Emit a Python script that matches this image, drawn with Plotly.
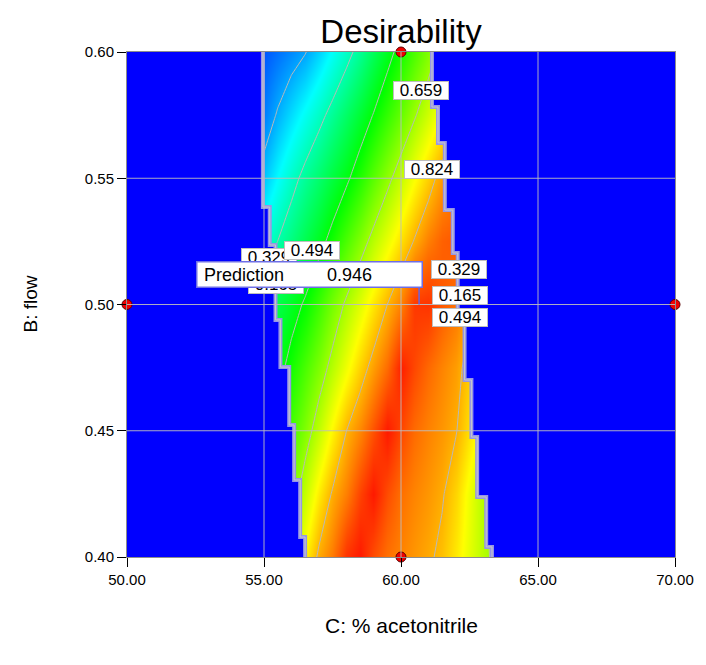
import plotly.graph_objects as go

# ---------------- data ----------------
x_acn = [54.5, 55.0, 55.5, 56.0, 56.5, 57.0, 57.5, 58.0, 58.5, 59.0,
         59.5, 60.0, 60.5, 61.0, 61.5, 62.0, 62.5, 63.0, 63.5]
y_flow = [0.400, 0.425, 0.450, 0.475, 0.500, 0.525, 0.550, 0.575, 0.600]

des_040 = [0.48, 0.55, 0.62, 0.69, 0.76, 0.835, 0.88, 0.95, 0.975, 0.925, 0.89, 0.87, 0.852, 0.834, 0.81, 0.77, 0.725, 0.68, 0.635]
des_0425 = [0.42, 0.49, 0.56, 0.625, 0.695, 0.77, 0.83, 0.875, 0.935, 0.975, 0.925, 0.89, 0.87, 0.852, 0.83, 0.79, 0.735, 0.675, 0.615]
des_045 = [0.38, 0.44, 0.50, 0.57, 0.628, 0.692, 0.757, 0.823, 0.868, 0.92, 0.975, 0.93, 0.895, 0.872, 0.852, 0.828, 0.78, 0.73, 0.68]
des_0475 = [0.36, 0.415, 0.468, 0.520, 0.573, 0.625, 0.680, 0.737, 0.795, 0.845, 0.895, 0.97, 0.93, 0.897, 0.87, 0.845, 0.80, 0.75, 0.70]
des_050 = [0.36, 0.39, 0.428, 0.464, 0.504, 0.560, 0.616, 0.670, 0.722, 0.773, 0.824, 0.875, 0.945, 0.95, 0.912, 0.885, 0.84, 0.79, 0.74]
des_0525 = [0.24, 0.285, 0.330, 0.376, 0.423, 0.469, 0.519, 0.574, 0.628, 0.681, 0.730, 0.780, 0.829, 0.875, 0.905, 0.915, 0.90, 0.88, 0.85]
des_055 = [0.14, 0.194, 0.249, 0.303, 0.352, 0.395, 0.438, 0.481, 0.532, 0.587, 0.641, 0.694, 0.745, 0.796, 0.85, 0.88, 0.89, 0.88, 0.86]
des_0575 = [0.075, 0.124, 0.172, 0.217, 0.262, 0.307, 0.353, 0.401, 0.450, 0.498, 0.550, 0.601, 0.653, 0.704, 0.755, 0.79, 0.82, 0.84, 0.85]
des_060 = [0.06, 0.085, 0.11, 0.135, 0.161, 0.207, 0.255, 0.304, 0.356, 0.412, 0.468, 0.522, 0.574, 0.626, 0.68, 0.73, 0.78, 0.82, 0.86]
desirability = [des_040, des_0425, des_045, des_0475, des_050, des_0525, des_055, des_0575, des_060]

contour_levels = [0.165, 0.329, 0.494, 0.659, 0.824]

# feasible-region edges (step boundaries): y breakpoints and the x of each step
left_edge_y = [0.40, 0.4079, 0.4305, 0.4523, 0.4752, 0.4939, 0.5236, 0.5386, 0.60]
left_edge_x = [56.50, 56.32, 56.10, 55.92, 55.60, 55.42, 55.21, 54.96]
right_edge_y = [0.40, 0.4040, 0.4238, 0.4475, 0.4701, 0.4939, 0.5204, 0.5374, 0.5640, 0.5782, 0.60]
right_edge_x = [63.32, 63.11, 62.78, 62.57, 62.32, 62.07, 61.89, 61.60, 61.35, 61.13]

# design points
design_x = [60, 50, 70, 60]
design_y = [0.60, 0.50, 0.50, 0.40]

# prediction
pred_x, pred_y, pred_val = 60.66, 0.50, 0.946

# contour label texts and their positions
label_text = ["0.329", "0.165", "0.494", "0.659", "0.824", "0.329", "0.165", "0.494"]
label_x = [55.17, 55.42, 56.75, 60.74, 61.13, 62.10, 62.17, 62.17]
label_y = [0.5188, 0.5081, 0.5212, 0.5846, 0.5533, 0.5137, 0.5034, 0.4947]

FONT = "Liberation Sans, Arial, sans-serif"
BLUE = "rgb(0,0,255)"

colorscale = [[0.0, "rgb(0,0,255)"], [0.25, "rgb(0,255,255)"], [0.5, "rgb(0,255,0)"],
              [0.75, "rgb(255,255,0)"], [1.0, "rgb(255,0,0)"]]


def step_path(ys, xs):
    px, py = [], []
    for i, xv in enumerate(xs):
        px += [xv, xv]
        py += [ys[i], ys[i + 1]]
    return px, py


fig = go.Figure()

fig.add_trace(go.Contour(
    x=x_acn, y=y_flow, z=desirability,
    colorscale=colorscale, zmin=0, zmax=1.0, showscale=False,
    contours=dict(coloring="heatmap", start=contour_levels[0], end=contour_levels[-1],
                  size=(contour_levels[-1] - contour_levels[0]) / (len(contour_levels) - 1)),
    line=dict(color="rgb(185,185,185)", width=1, smoothing=0),
    hoverinfo="skip",
))

# blue masks outside the feasible band
lx, ly = step_path(left_edge_y, left_edge_x)
fig.add_trace(go.Scatter(x=[50] + lx + [50], y=[left_edge_y[0]] + ly + [left_edge_y[-1]],
                         fill="toself", fillcolor=BLUE, mode="lines", line=dict(width=0),
                         hoverinfo="skip", showlegend=False))
rx, ry = step_path(right_edge_y, right_edge_x)
fig.add_trace(go.Scatter(x=[70] + rx + [70], y=[right_edge_y[0]] + ry + [right_edge_y[-1]],
                         fill="toself", fillcolor=BLUE, mode="lines", line=dict(width=0),
                         hoverinfo="skip", showlegend=False))

# boundary outlines (stacked contours)
for xs_, ys_ in [(lx, ly), (rx, ry)]:
    fig.add_trace(go.Scatter(x=xs_, y=ys_, mode="lines",
                             line=dict(color="rgb(150,150,230)", width=4),
                             hoverinfo="skip", showlegend=False))
    fig.add_trace(go.Scatter(x=xs_, y=ys_, mode="lines",
                             line=dict(color="rgb(200,200,200)", width=1),
                             hoverinfo="skip", showlegend=False))

# design points
fig.add_trace(go.Scatter(x=design_x, y=design_y, mode="markers", cliponaxis=False,
                         marker=dict(size=10, color="rgb(240,0,0)",
                                     line=dict(color="rgb(90,0,0)", width=1)),
                         hoverinfo="skip", showlegend=False))

shapes = []
for gx in [55, 60, 65]:
    shapes.append(dict(type="line", xref="x", yref="y", x0=gx, x1=gx, y0=0.40, y1=0.60,
                       line=dict(color="rgba(190,190,190,0.9)", width=1), layer="above"))
for gy in [0.45, 0.50, 0.55]:
    shapes.append(dict(type="line", xref="x", yref="y", x0=50, x1=70, y0=gy, y1=gy,
                       line=dict(color="rgba(190,190,190,0.9)", width=1), layer="above"))

annotations = []
for t, ax_, ay_ in zip(label_text, label_x, label_y):
    annotations.append(dict(x=ax_, y=ay_, xref="x", yref="y", text=t, showarrow=False,
                            font=dict(family=FONT, size=17, color="black"),
                            bgcolor="white", bordercolor="rgb(190,190,190)", borderwidth=1,
                            borderpad=0, width=54, height=17))

# prediction flag
box_x0, box_x1, box_y0, box_y1 = 52.62, 60.70, 0.5069, 0.5168
shapes.append(dict(type="line", xref="x", yref="y", x0=pred_x, x1=pred_x, y0=pred_y, y1=box_y0,
                   line=dict(color="rgb(100,100,230)", width=1.5), layer="above"))
annotations.append(dict(x=(box_x0 + box_x1) / 2, y=(box_y0 + box_y1) / 2, xref="x", yref="y",
                        text="", showarrow=False, bgcolor="white",
                        bordercolor="rgb(110,110,230)", borderwidth=1.5, borderpad=0,
                        width=224, height=24))
annotations.append(dict(x=box_x0 + 0.1, y=(box_y0 + box_y1) / 2, xref="x", yref="y",
                        xanchor="left", text="Prediction", showarrow=False,
                        font=dict(family=FONT, size=18, color="black")))
annotations.append(dict(x=58.11, y=(box_y0 + box_y1) / 2, xref="x", yref="y",
                        xanchor="center", text=f"{pred_val:.3f}", showarrow=False,
                        font=dict(family=FONT, size=18, color="black")))

# axis titles
annotations.append(dict(x=0.5, y=0, xref="paper", yref="paper", yanchor="middle",
                        yshift=-68, text="C: % acetonitrile", showarrow=False,
                        font=dict(family=FONT, size=21, color="black")))
annotations.append(dict(x=0, y=0.5, xref="paper", yref="paper", xanchor="center",
                        xshift=-97, text="B: flow", textangle=-90, showarrow=False,
                        font=dict(family=FONT, size=19, color="black")))

fig.update_layout(
    width=706, height=665,
    margin=dict(l=127, r=22, t=52, b=108),
    paper_bgcolor="white", plot_bgcolor=BLUE,
    title=dict(text="Desirability", x=0.5, xref="paper", xanchor="center",
               y=1 - 31 / 665, yanchor="middle",
               font=dict(family=FONT, size=33, color="black")),
    shapes=shapes, annotations=annotations, showlegend=False,
    xaxis=dict(range=[50, 70], tickvals=[50, 55, 60, 65, 70], tickformat=".2f",
               ticks="outside", ticklen=9, tickcolor="black", tickwidth=1,
               showgrid=False, zeroline=False, showline=True, linecolor="rgb(140,140,140)",
               mirror=True, tickfont=dict(family=FONT, size=15, color="black")),
    yaxis=dict(range=[0.40, 0.60], tickvals=[0.40, 0.45, 0.50, 0.55, 0.60], tickformat=".2f",
               ticks="outside", ticklen=9, tickcolor="black", tickwidth=1,
               showgrid=False, zeroline=False, showline=True, linecolor="rgb(140,140,140)",
               mirror=True, tickfont=dict(family=FONT, size=15, color="black")),
)

fig.write_html("out.html")
